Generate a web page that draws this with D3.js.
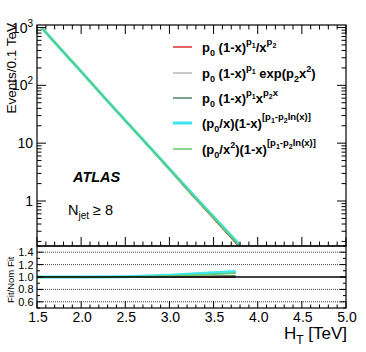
<!DOCTYPE html>
<html><head><meta charset="utf-8">
<script src="https://cdn.jsdelivr.net/npm/d3@7"></script>
<style>body{margin:0;background:#fff}svg{display:block}text{font-family:"Liberation Sans",Arial,sans-serif}</style>
</head><body><svg id="c" width="366" height="352"></svg>
<script>
// ---- data ----
const htPoints = [1.55, 1.75, 2.0, 2.25, 2.5, 2.75, 3.0, 3.25, 3.5, 3.75, 3.8];
const fitPowA = [1000, 457, 174, 65, 24.5, 9.3, 3.5, 1.3, 0.50, 0.19, 0.155];
const fitExpB = [1000, 457, 174, 65, 24.6, 9.4, 3.57, 1.35, 0.525, 0.203, 0.166];
const fitXpC  = [1000, 457, 174, 65, 24.5, 9.3, 3.52, 1.31, 0.507, 0.194, 0.158];
const fitLnD  = [1000, 457, 174, 65, 24.7, 9.45, 3.6, 1.37, 0.535, 0.207, 0.17];
const fitLnE  = [1000, 457, 174, 65, 24.6, 9.4, 3.57, 1.34, 0.52, 0.2, 0.163];

const ratioX = [1.5, 2.0, 2.5, 2.75, 3.0, 3.25, 3.5, 3.75];
const ratioA = [1, 1, 1, 1, 0.999, 0.998, 0.997, 0.996];
const ratioB = [1, 1, 1.003, 1.01, 1.02, 1.035, 1.05, 1.07];
const ratioC = [1, 1, 1, 1.002, 1.005, 1.01, 1.015, 1.02];
const ratioD = [1, 1, 1.005, 1.015, 1.03, 1.05, 1.07, 1.09];
const ratioE = [1, 1, 1.003, 1.01, 1.02, 1.03, 1.045, 1.06];

const xTicks = [1.5, 2.0, 2.5, 3.0, 3.5, 4.0, 4.5, 5.0];
const yDecades = [1, 10, 100, 1000];
const ratioTicks = [0.6, 0.8, 1.0, 1.2, 1.4];

const seriesNames = ["A","B","C","D","E"];
const colors = {A:"#d8322e", B:"#b4b4b4", C:"#4f7f62", D:"#3ee6ee", E:"#66c866"};
const widths = {A:1.5, B:1.5, C:1.5, D:3, E:1.5};

// ---- layout ----
const L = 37, R = 346, T = 25, B1 = 246, B2 = 308;
const svg = d3.select("#c");
const x = d3.scaleLinear().domain([1.5, 5.0]).range([L, R]);
const y = d3.scaleLog().domain([0.1667, 1105]).range([B1, T]);
const yr = d3.scaleLinear().domain([0.5, 1.5]).range([B2, B1]);

svg.append("defs").append("clipPath").attr("id","cp1").append("rect")
  .attr("x",L).attr("y",T).attr("width",R-L).attr("height",B1-T);
svg.append("defs").append("clipPath").attr("id","cp2").append("rect")
  .attr("x",L).attr("y",B1).attr("width",R-L).attr("height",B2-B1);

// ratio grid
const gr = svg.append("g");
ratioTicks.filter(v=>v!==1.0).forEach(v=>{
  gr.append("line").attr("x1",L).attr("x2",R).attr("y1",yr(v)).attr("y2",yr(v))
    .attr("stroke","#444").attr("stroke-width",1).attr("stroke-dasharray","1,1");
});

// main curves
const fits = {A:fitPowA, B:fitExpB, C:fitXpC, D:fitLnD, E:fitLnE};
const line = d3.line().x(d=>x(d[0])).y(d=>y(d[1]));
const gm = svg.append("g").attr("clip-path","url(#cp1)");
seriesNames.forEach(k=>{
  gm.append("path").attr("d", line(htPoints.map((h,i)=>[h, fits[k][i]])))
    .attr("fill","none").attr("stroke",colors[k]).attr("stroke-width",widths[k]);
});

// ratio curves
const ratios = {A:ratioA, B:ratioB, C:ratioC, D:ratioD, E:ratioE};
const rline = d3.line().x(d=>x(d[0])).y(d=>yr(d[1]));
const grc = svg.append("g").attr("clip-path","url(#cp2)");
seriesNames.forEach(k=>{
  grc.append("path").attr("d", rline(ratioX.map((h,i)=>[h, ratios[k][i]])))
    .attr("fill","none").attr("stroke",colors[k]).attr("stroke-width",widths[k]);
});
svg.append("line").attr("x1",L).attr("x2",R).attr("y1",yr(1)).attr("y2",yr(1))
  .attr("stroke","#000").attr("stroke-width",1.5);

// frames
svg.append("rect").attr("x",L).attr("y",T).attr("width",R-L).attr("height",B1-T)
  .attr("fill","none").attr("stroke","#000").attr("stroke-width",1.2);
svg.append("rect").attr("x",L).attr("y",B1).attr("width",R-L).attr("height",B2-B1)
  .attr("fill","none").attr("stroke","#000").attr("stroke-width",1.2);

// ticks
const tk = svg.append("g").attr("stroke","#000").attr("stroke-width",1);
function xtick(yy, dir, v, len){ tk.append("line").attr("x1",x(v)).attr("x2",x(v)).attr("y1",yy).attr("y2",yy+dir*len); }
const xMinor = d3.range(15, 51).map(v=>v/10);
xMinor.forEach(v=>{
  const major = xTicks.some(t=>Math.abs(t-v)<1e-6);
  const len = major ? 9 : 4.5;
  xtick(B1, -1, v, len); xtick(T, 1, v, len); xtick(B2, -1, v, major ? 7 : 3.5);
});
const yMinor = [];
[0.1,1,10,100,1000].forEach(d=>{ for(let m=1;m<10;m++){ const v=d*m; if(v>=0.1667 && v<=1105) yMinor.push([v, m===1]); } });
yMinor.forEach(([v,maj])=>{
  const len = maj ? 9 : 4.5;
  tk.append("line").attr("x1",L).attr("x2",L+len).attr("y1",y(v)).attr("y2",y(v));
  tk.append("line").attr("x1",R).attr("x2",R-len).attr("y1",y(v)).attr("y2",y(v));
});
d3.range(5,16).map(v=>v/10).forEach(v=>{
  const maj = Math.round(v*10)%2===0;
  const len = maj ? 6 : 3;
  tk.append("line").attr("x1",L).attr("x2",L+len).attr("y1",yr(v)).attr("y2",yr(v));
  tk.append("line").attr("x1",R).attr("x2",R-len).attr("y1",yr(v)).attr("y2",yr(v));
});

// labels
const tx = svg.append("g").attr("fill","#000");
xTicks.forEach(v=>{
  tx.append("text").attr("x",x(v)+1).attr("y",322).attr("text-anchor","middle")
    .attr("font-size",14).text(v.toFixed(1));
});
const decLabels = {1:"1", 10:"10", 100:"10", 1000:"10"};
const decExp = {100:"2", 1000:"3"};
yDecades.forEach(v=>{
  const t = tx.append("text").attr("x",33).attr("y",y(v)+5).attr("text-anchor","end").attr("font-size",14);
  if (decExp[v]) {
    t.append("tspan").text("10");
    t.append("tspan").attr("dy",-6).attr("font-size",10).text(decExp[v]);
  } else t.text(decLabels[v]);
});
ratioTicks.forEach(v=>{
  tx.append("text").attr("x",33.5).attr("y",yr(v)+4).attr("text-anchor","end")
    .attr("font-size",11).text(v.toFixed(1));
});
tx.append("text").attr("transform","translate(16,23) rotate(-90)").attr("text-anchor","end")
  .attr("font-size",13.5).text("Events/0.1 TeV");
tx.append("text").attr("transform","translate(13.5,303) rotate(-90)").attr("text-anchor","start")
  .attr("font-size",9.5).text("Fit/Nom Fit");
const ht = tx.append("text").attr("x",347).attr("y",339).attr("text-anchor","end").attr("font-size",17);
ht.append("tspan").text("H");
ht.append("tspan").attr("dy",5).attr("font-size",12).text("T");
ht.append("tspan").attr("dy",-5).text(" [TeV]");

tx.append("text").attr("x",73).attr("y",182).attr("font-size",14.5).attr("font-weight","bold")
  .attr("font-style","italic").text("ATLAS");
const nj = tx.append("text").attr("x",68).attr("y",215).attr("font-size",14.5);
nj.append("tspan").text("N");
nj.append("tspan").attr("dy",4).attr("font-size",10).text("jet");
nj.append("tspan").attr("dy",-4).text(" \u2265 8");

// legend
function rich(sel, parts){
  let cur = 0;
  parts.forEach(([t, off, fs])=>{
    sel.append("tspan").attr("dy", off-cur).attr("font-size", fs).text(t);
    cur = off;
  });
}
const legRows = [
  [["p",0,13],["0",4,9],[" (1-x)",0,13],["p",-7,9.5],["1",-4,7],["/x",0,13],["p",-7,9.5],["2",-4,7]],
  [["p",0,13],["0",4,9],[" (1-x)",0,13],["p",-7,9.5],["1",-4,7],[" exp(p",0,13],["2",4,9],["x",0,13],["2",-6,9],[")",0,13]],
  [["p",0,13],["0",4,9],[" (1-x)",0,13],["p",-7,9.5],["1",-4,7],["x",0,13],["p",-7,9.5],["2",-4,7],["x",-7,9.5]],
  [["(p",0,13],["0",4,9],["/x)(1-x)",0,13],["[p",-8,9.5],["1",-5,7],["-p",-8,9.5],["2",-5,7],["ln(x)]",-8,9.5]],
  [["(p",0,13],["0",4,9],["/x",0,13],["2",-6,9],[")(1-x)",0,13],["[p",-8,9.5],["1",-5,7],["-p",-8,9.5],["2",-5,7],["ln(x)]",-8,9.5]]
];
const legY = [47, 73, 98, 123, 149];
seriesNames.forEach((k,i)=>{
  svg.append("line").attr("x1",173).attr("x2",192).attr("y1",legY[i]).attr("y2",legY[i])
    .attr("stroke",colors[k]).attr("stroke-width",widths[k]);
  const t = svg.append("text").attr("x",202).attr("y",legY[i]+5).attr("font-weight","bold");
  rich(t, legRows[i]);
});
</script></body></html>
